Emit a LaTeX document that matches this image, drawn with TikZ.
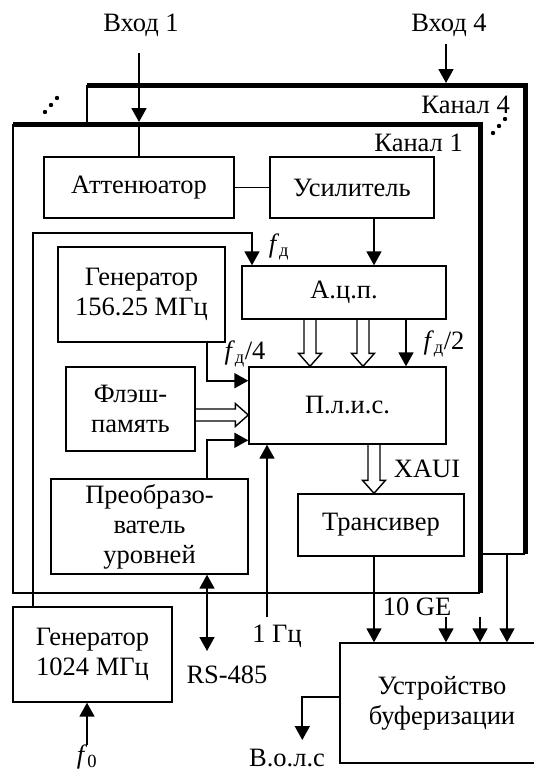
\documentclass[tikz,border=0pt]{standalone}
\usepackage{fontspec}
\setmainfont{Liberation Serif}
\usetikzlibrary{arrows.meta,calc}
\definecolor{LineClr}{rgb}{0,0,0}
\tikzset{
  ln/.style={line width=1.4pt,color=LineClr},
  blk/.style={ln,draw,inner sep=0pt,align=center,font=\fontsize{26.5}{30}\selectfont},
  lbl/.style={inner sep=0pt,font=\fontsize{26.5}{30}\selectfont},
  sig/.style={line width=1.8pt,color=LineClr,-{Triangle[width=15pt,length=14pt]}},
  dsig/.style={line width=1.8pt,color=LineClr,{Triangle[width=15pt,length=14pt]}-{Triangle[width=15pt,length=14pt]}},
  frm/.style={line width=5pt,color=LineClr,line join=miter},
}
\newcommand\busdown[2]{\draw[ln,line join=miter] let \p1=(#1), \p2=(#2) in
  (\x1-6pt,\y1) -- (\x1-6pt,\y2+13pt) -- (\x1-11.5pt,\y2+13pt) -- (\x1,\y2)
  -- (\x1+11.5pt,\y2+13pt) -- (\x1+6pt,\y2+13pt) -- (\x1+6pt,\y1);}
\newcommand\busright[2]{\draw[ln,line join=miter] let \p1=(#1), \p2=(#2) in
  (\x1,\y1+6pt) -- (\x2-13pt,\y1+6pt) -- (\x2-13pt,\y1+11.5pt) -- (\x2,\y1)
  -- (\x2-13pt,\y1-11.5pt) -- (\x2-13pt,\y1-6pt) -- (\x1,\y1-6pt);}

\begin{document}
\begin{tikzpicture}[x=1pt,y=-1pt]
\useasboundingbox (0,0) rectangle (533,771);

\coordinate (c1nw) at (13,124); \coordinate (c1se) at (480,593);
\coordinate (c4nw) at (87,85);  \coordinate (c4se) at (525,554);
\coordinate (in1) at (139,53);  \coordinate (in4) at (446,44);
\coordinate (lp) at (33,233);   \coordinate (lq) at (252,233);
\coordinate (hz1) at (267,617); \coordinate (rs1) at (207,651);
\coordinate (c4o) at (507,554); \coordinate (vols1) at (303,740);
\coordinate (f01) at (87,745);

\draw[ln] (c4nw |- c1nw) -- (c4nw);
\draw[ln] (c1se |- c4se) -- (c4se);
\draw[frm] (c4nw) -- (c4nw -| c4se) -- (c4se);
\draw[ln] (c1nw) -- (c1nw |- c1se) -- (c1se);
\draw[frm] (c1nw) -- (c1nw -| c1se) -- (c1se);
\foreach \p in {(45,112),(51,105),(57,98),(493,133),(499,126),(505,119)}
  \fill[LineClr] \p circle[radius=2.2pt];

\node[lbl] (in1l) at (141,25) {Вход 1};
\node[lbl] (in4l) at (449,25) {Вход 4};
\node[lbl,anchor=east] (ch4) at (510,105) {Канал 4};
\node[lbl,anchor=east] (ch1) at (463,143) {Канал 1};

\node[blk,minimum width=190pt,minimum height=61pt] (att) at (139,187.5) {Аттенюатор};
\node[blk,minimum width=164pt,minimum height=61pt] (amp) at (352,187.5) {Усилитель};
\node[blk,minimum width=204pt,minimum height=53pt] (adc) at (344,292.5) {А.ц.п.};
\node[blk,minimum width=167pt,minimum height=95pt] (gen156) at (141.5,294.5) {Генератор\\156.25 МГц};
\node[blk,minimum width=197pt,minimum height=77pt] (fpga) at (347.5,405.5) {П.л.и.с.};
\node[blk,minimum width=129pt,minimum height=84pt] (flash) at (130.5,409) {Флэш-\\память};
\node[blk,minimum width=197pt,minimum height=95pt] (conv) at (149.5,526.5) {Преобразо-\\ватель\\уровней};
\node[blk,minimum width=166pt,minimum height=62pt] (trx) at (381,525) {Трансивер};
\node[blk,minimum width=159pt,minimum height=95pt] (gen1024) at (92.5,654.5) {Генератор\\1024 МГц};
\node[blk,minimum width=204pt,minimum height=120pt] (buf) at (442,703) {Устройство\\буферизации};

\node[lbl] (fd) at (279,247) {\textit{f}\textsubscript{д}};
\node[lbl] (fd4) at (245,354) {\textit{f}\textsubscript{д}/4};
\node[lbl] (fd2) at (444,344) {\textit{f}\textsubscript{д}/2};
\node[lbl] (xaui) at (427,469) {XAUI};
\node[lbl] (ge) at (417,607) {10 GE};
\node[lbl] (hz) at (277,636) {1 Гц};
\node[lbl] (rs) at (227,675) {RS-485};
\node[lbl] (vols) at (287,758) {В.о.л.с};
\node[lbl] (f0) at (87,757) {\textit{f}\textsubscript{0}};

\draw[sig,shorten >=2pt] (in1) -- (in1 |- c1nw);
\draw[ln] (in1 |- c1nw) -- (att.north);
\draw[sig,shorten >=2pt] (in4) -- (in4 |- c4nw);
\draw[ln] (att) -- (amp);
\draw[sig] ([xshift=22pt]amp.south) -- ([xshift=22pt]amp.south |- adc.north);
\draw[sig] (gen1024.north -| lp) -- (lp) -- (lq) -- (lq |- adc.north);
\draw[sig] ([xshift=65.5pt]gen156.south) -- ++(0,38) coordinate (g1) -- (g1 -| fpga.west);
\busdown{[xshift=-34pt]adc.south}{[xshift=-34pt]adc.south |- fpga.north}
\busdown{[xshift=19pt]adc.south}{[xshift=19pt]adc.south |- fpga.north}
\draw[sig] ([xshift=62pt]adc.south) -- ([xshift=62pt]adc.south |- fpga.north);
\busright{[yshift=-6pt]flash.east}{[yshift=-6pt]flash.east -| fpga.west}
\draw[sig] ([xshift=57.5pt]conv.north) -- ++(0,-38) coordinate (p1) -- (p1 -| fpga.west);
\draw[sig] (hz1) -- (hz1 |- fpga.south);
\draw[dsig] ([xshift=57.5pt]conv.south) -- (rs1);
\busdown{[xshift=26.5pt]fpga.south}{[xshift=26.5pt]fpga.south |- trx.north}
\draw[sig] ([xshift=-7pt]trx.south) -- ([xshift=-7pt]trx.south |- buf.north);
\foreach \x in {446,480}{
  \coordinate (t) at (\x,617);
  \draw[sig] (t) -- (t |- buf.north);
}
\draw[sig] (c4o) -- (c4o |- buf.north);
\draw[sig] ([yshift=6pt]buf.west) -- ++(-37,0) coordinate (v1) -- (v1 |- vols1);
\draw[sig] (f01) -- (f01 |- gen1024.south);

\end{tikzpicture}
\end{document}
